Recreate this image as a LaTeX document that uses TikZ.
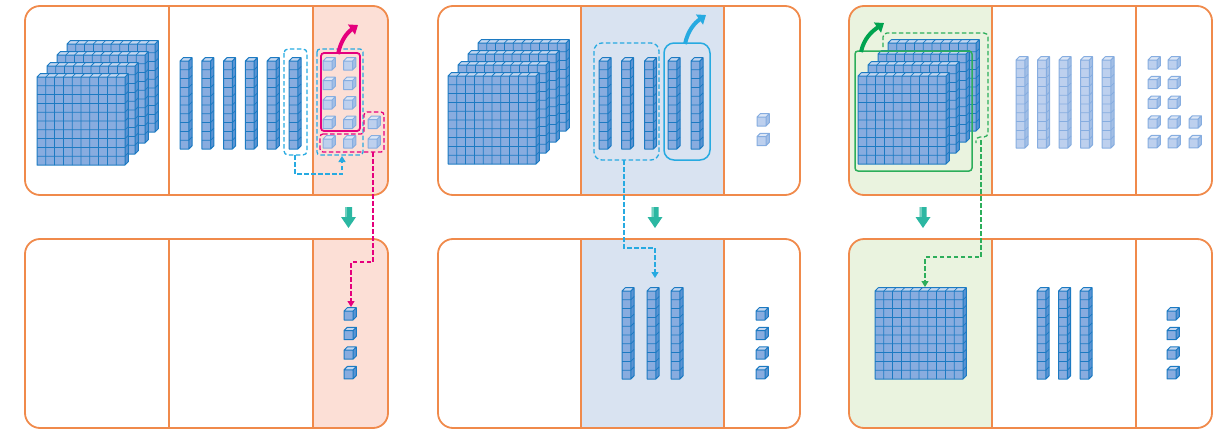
\documentclass[tikz,border=0pt]{standalone}
\usetikzlibrary{arrows.meta}
\definecolor{orangeline}{HTML}{F08A4B}
\definecolor{pinkbg}{HTML}{FCDFD6}
\definecolor{bluebg}{HTML}{D9E3F1}
\definecolor{greenbg}{HTML}{EAF3DF}
\definecolor{dkfront}{HTML}{88ACDF}
\definecolor{dktop}{HTML}{C3D6F0}
\definecolor{dkside}{HTML}{5A93D3}
\definecolor{dkline}{HTML}{1C7AC2}
\definecolor{plfront}{HTML}{BDD0EE}
\definecolor{pltop}{HTML}{DDE7F6}
\definecolor{plside}{HTML}{A3BFE6}
\definecolor{plline}{HTML}{86ADE0}
\definecolor{magc}{HTML}{E5007D}
\definecolor{cyanl}{HTML}{27AAE1}
\definecolor{greenl}{HTML}{2DAE5B}
\definecolor{greena}{HTML}{00A34F}
\definecolor{tealarr}{HTML}{2BB7A2}
\definecolor{teallt}{HTML}{6FD0BF}
% #1 x, #2 y (top-left of front face), #3 cols, #4 rows, #5 palette, #6 cell size
\newcommand\cubeblock[6]{%
  \begin{scope}[shift={(#1,#2)}]
    \pgfmathsetmacro\bW{#3*#6}%
    \pgfmathsetmacro\bH{#4*#6}%
    \pgfmathsetmacro\bD{0.37*#6}%
    \fill[#5top] (0,0) -- (\bD,-\bD) -- (\bW+\bD,-\bD) -- (\bW,0) -- cycle;
    \fill[#5side] (\bW,0) -- (\bW+\bD,-\bD) -- (\bW+\bD,\bH-\bD) -- (\bW,\bH) -- cycle;
    \fill[#5front] (0,0) rectangle (\bW,\bH);
    \ifnum#3>1
      \pgfmathtruncatemacro\bNc{#3-1}%
      \foreach \i in {1,...,\bNc}{\draw[#5line, line width=0.75] (\i*#6,0) -- (\i*#6,\bH) (\i*#6,0) -- ++(\bD,-\bD);}
    \fi
    \ifnum#4>1
      \pgfmathtruncatemacro\bNr{#4-1}%
      \foreach \j in {1,...,\bNr}{\draw[#5line, line width=0.75] (0,\j*#6) -- (\bW,\j*#6) -- ++(\bD,-\bD);}
    \fi
    \draw[#5line, line width=1, line join=round] (0,\bH) -- (0,0) -- (\bD,-\bD) -- (\bW+\bD,-\bD) -- (\bW+\bD,\bH-\bD) -- (\bW,\bH) -- cycle (0,0) -- (\bW,0) -- (\bW+\bD,-\bD) (\bW,0) -- (\bW,\bH);
  \end{scope}}
\newcommand\flatstack[2]{%
  \cubeblock{#1+30}{#2-33}{10}{10}{dk}{8.8}
  \cubeblock{#1+20}{#2-22}{10}{10}{dk}{8.8}
  \cubeblock{#1+10}{#2-11}{10}{10}{dk}{8.8}
  \cubeblock{#1}{#2}{10}{10}{dk}{8.8}}
\newcommand\fatarrow[1]{%
  \fill[tealarr] (#1-3.5,207) -- (#1+3.5,207) -- (#1+3.5,217) -- (#1+7.5,217) -- (#1,228) -- (#1-7.5,217) -- (#1-3.5,217) -- cycle;
  \fill[teallt] (#1-3.5,207) rectangle (#1-1.2,217);}
\begin{document}
\begin{tikzpicture}[x=1pt,y=-1pt,
  panel/.style={draw=orangeline, line width=1.8, rounded corners=15},
  divider/.style={draw=orangeline, line width=1.5},
  leadtip/.style={-{Triangle[length=6pt,width=7pt]}},
  dashc/.style={draw=cyanl, line width=1.3, dash pattern=on 4.5pt off 2.5pt},
  dashm/.style={draw=magc, line width=1.3, dash pattern=on 4.5pt off 2.5pt},
  dashg/.style={draw=greenl, line width=1.3, dash pattern=on 4.5pt off 2.5pt},
  bigarr/.style={line width=4, -{Triangle[length=8pt,width=12pt]}}]
\useasboundingbox (0,0) rectangle (1229,431);
% ---------- shading ----------
\foreach \yt/\yb in {6/195,239/428}{
  \begin{scope}\clip[rounded corners=15] (25,\yt) rectangle (388,\yb);
    \fill[pinkbg] (313,\yt) rectangle (388,\yb);\end{scope}
  \fill[bluebg] (581,\yt) rectangle (724,\yb);
  \begin{scope}\clip[rounded corners=15] (849,\yt) rectangle (1212,\yb);
    \fill[greenbg] (849,\yt) rectangle (992,\yb);\end{scope}
}
% ---------- panel frames ----------
\foreach \xl/\xr/\da/\db in {25/388/169/313, 438/800/581/724, 849/1212/992/1136}{
  \foreach \yt/\yb in {6/195,239/428}{
    \draw[panel] (\xl,\yt) rectangle (\xr,\yb);
    \draw[divider] (\da,\yt) -- (\da,\yb) (\db,\yt) -- (\db,\yb);
  }
}
% ---------- down arrows ----------
\fatarrow{348.5}
\fatarrow{655}
\fatarrow{923}
% ================= panel 1 =================
\flatstack{37}{77}
\foreach \k in {0,...,5}{\cubeblock{180+21.8*\k}{61}{1}{10}{dk}{8.8}}
\foreach \r in {0,...,4}{
  \cubeblock{323}{61+19.5*\r}{1}{1}{pl}{9}
  \cubeblock{343.5}{61+19.5*\r}{1}{1}{pl}{9}}
\foreach \r in {3,4}{\cubeblock{368}{61+19.5*\r}{1}{1}{pl}{9}}
\draw[dashc, rounded corners=4] (284,49) rectangle (307,155);
\draw[dashc, rounded corners=3] (317,49) rectangle (363,155);
\draw[magc, line width=1.8, rounded corners=3] (321,53) rectangle (360,131);
\draw[dashm, rounded corners=3] (320,134) -- (364,134) -- (364,112) -- (384,112) -- (384,152) -- (320,152) -- cycle;
\draw[magc, bigarr] (338,54) to[out=78,in=215] (358,25);
\coordinate (c1a) at (295,155);
\coordinate (c1b) at (342,156);
\draw[dashc, leadtip] (c1a) -- ++(0,19) -| (c1b);
\foreach \r in {0,...,3}{\cubeblock{344}{311+19.6*\r}{1}{1}{dk}{9}}
\coordinate (m1a) at (373,152);
\coordinate (m1b) at (351,307);
\draw[dashm, leadtip] (m1a) -- ++(0,110) -| (m1b);
% ================= panel 2 =================
\flatstack{448}{76}
\foreach \x in {599,621.5,644.5,668,691}{\cubeblock{\x}{61}{1}{10}{dk}{8.8}}
\foreach \r in {0,1}{\cubeblock{757}{117+19.6*\r}{1}{1}{pl}{9}}
\draw[dashc, rounded corners=8] (594,43) rectangle (659,160);
\draw[cyanl, line width=1.5, rounded corners=10] (664,43) rectangle (710,160);
\draw[cyanl, bigarr] (685,44) to[out=78,in=215] (706,15);
\foreach \x in {622,647,671}{\cubeblock{\x}{291}{1}{10}{dk}{8.8}}
\foreach \r in {0,...,3}{\cubeblock{756}{311+19.6*\r}{1}{1}{dk}{9}}
\coordinate (c2a) at (624,160);
\coordinate (c2b) at (655,278);
\draw[dashc, leadtip] (c2a) -- ++(0,88) -| (c2b);
% ================= panel 3 =================
\flatstack{858}{76}
\draw[greenl, line width=1.5, rounded corners=3] (855,51) rectangle (972,171);
\draw[dashg, rounded corners=4] (883,47) -- (883,33) -- (988,33) -- (988,137) -- (976,137) -- (976,143);
\draw[greena, bigarr] (861,52) to[out=78,in=215] (884,23);
\foreach \x in {1016,1037.5,1059,1080.5,1102}{\cubeblock{\x}{60}{1}{10}{pl}{8.8}}
\foreach \r in {0,...,4}{
  \cubeblock{1148}{60+19.7*\r}{1}{1}{pl}{9}
  \cubeblock{1168}{60+19.7*\r}{1}{1}{pl}{9}}
\foreach \r in {3,4}{\cubeblock{1189}{60+19.7*\r}{1}{1}{pl}{9}}
\cubeblock{875}{291}{10}{10}{dk}{8.8}
\foreach \x in {1037,1058.5,1080}{\cubeblock{\x}{291}{1}{10}{dk}{8.8}}
\foreach \r in {0,...,3}{\cubeblock{1167}{311+19.6*\r}{1}{1}{dk}{9}}
\coordinate (g1a) at (981,140);
\coordinate (g1b) at (925,287);
\draw[dashg, leadtip] (g1a) -- ++(0,117) -| (g1b);
\end{tikzpicture}
\end{document}
